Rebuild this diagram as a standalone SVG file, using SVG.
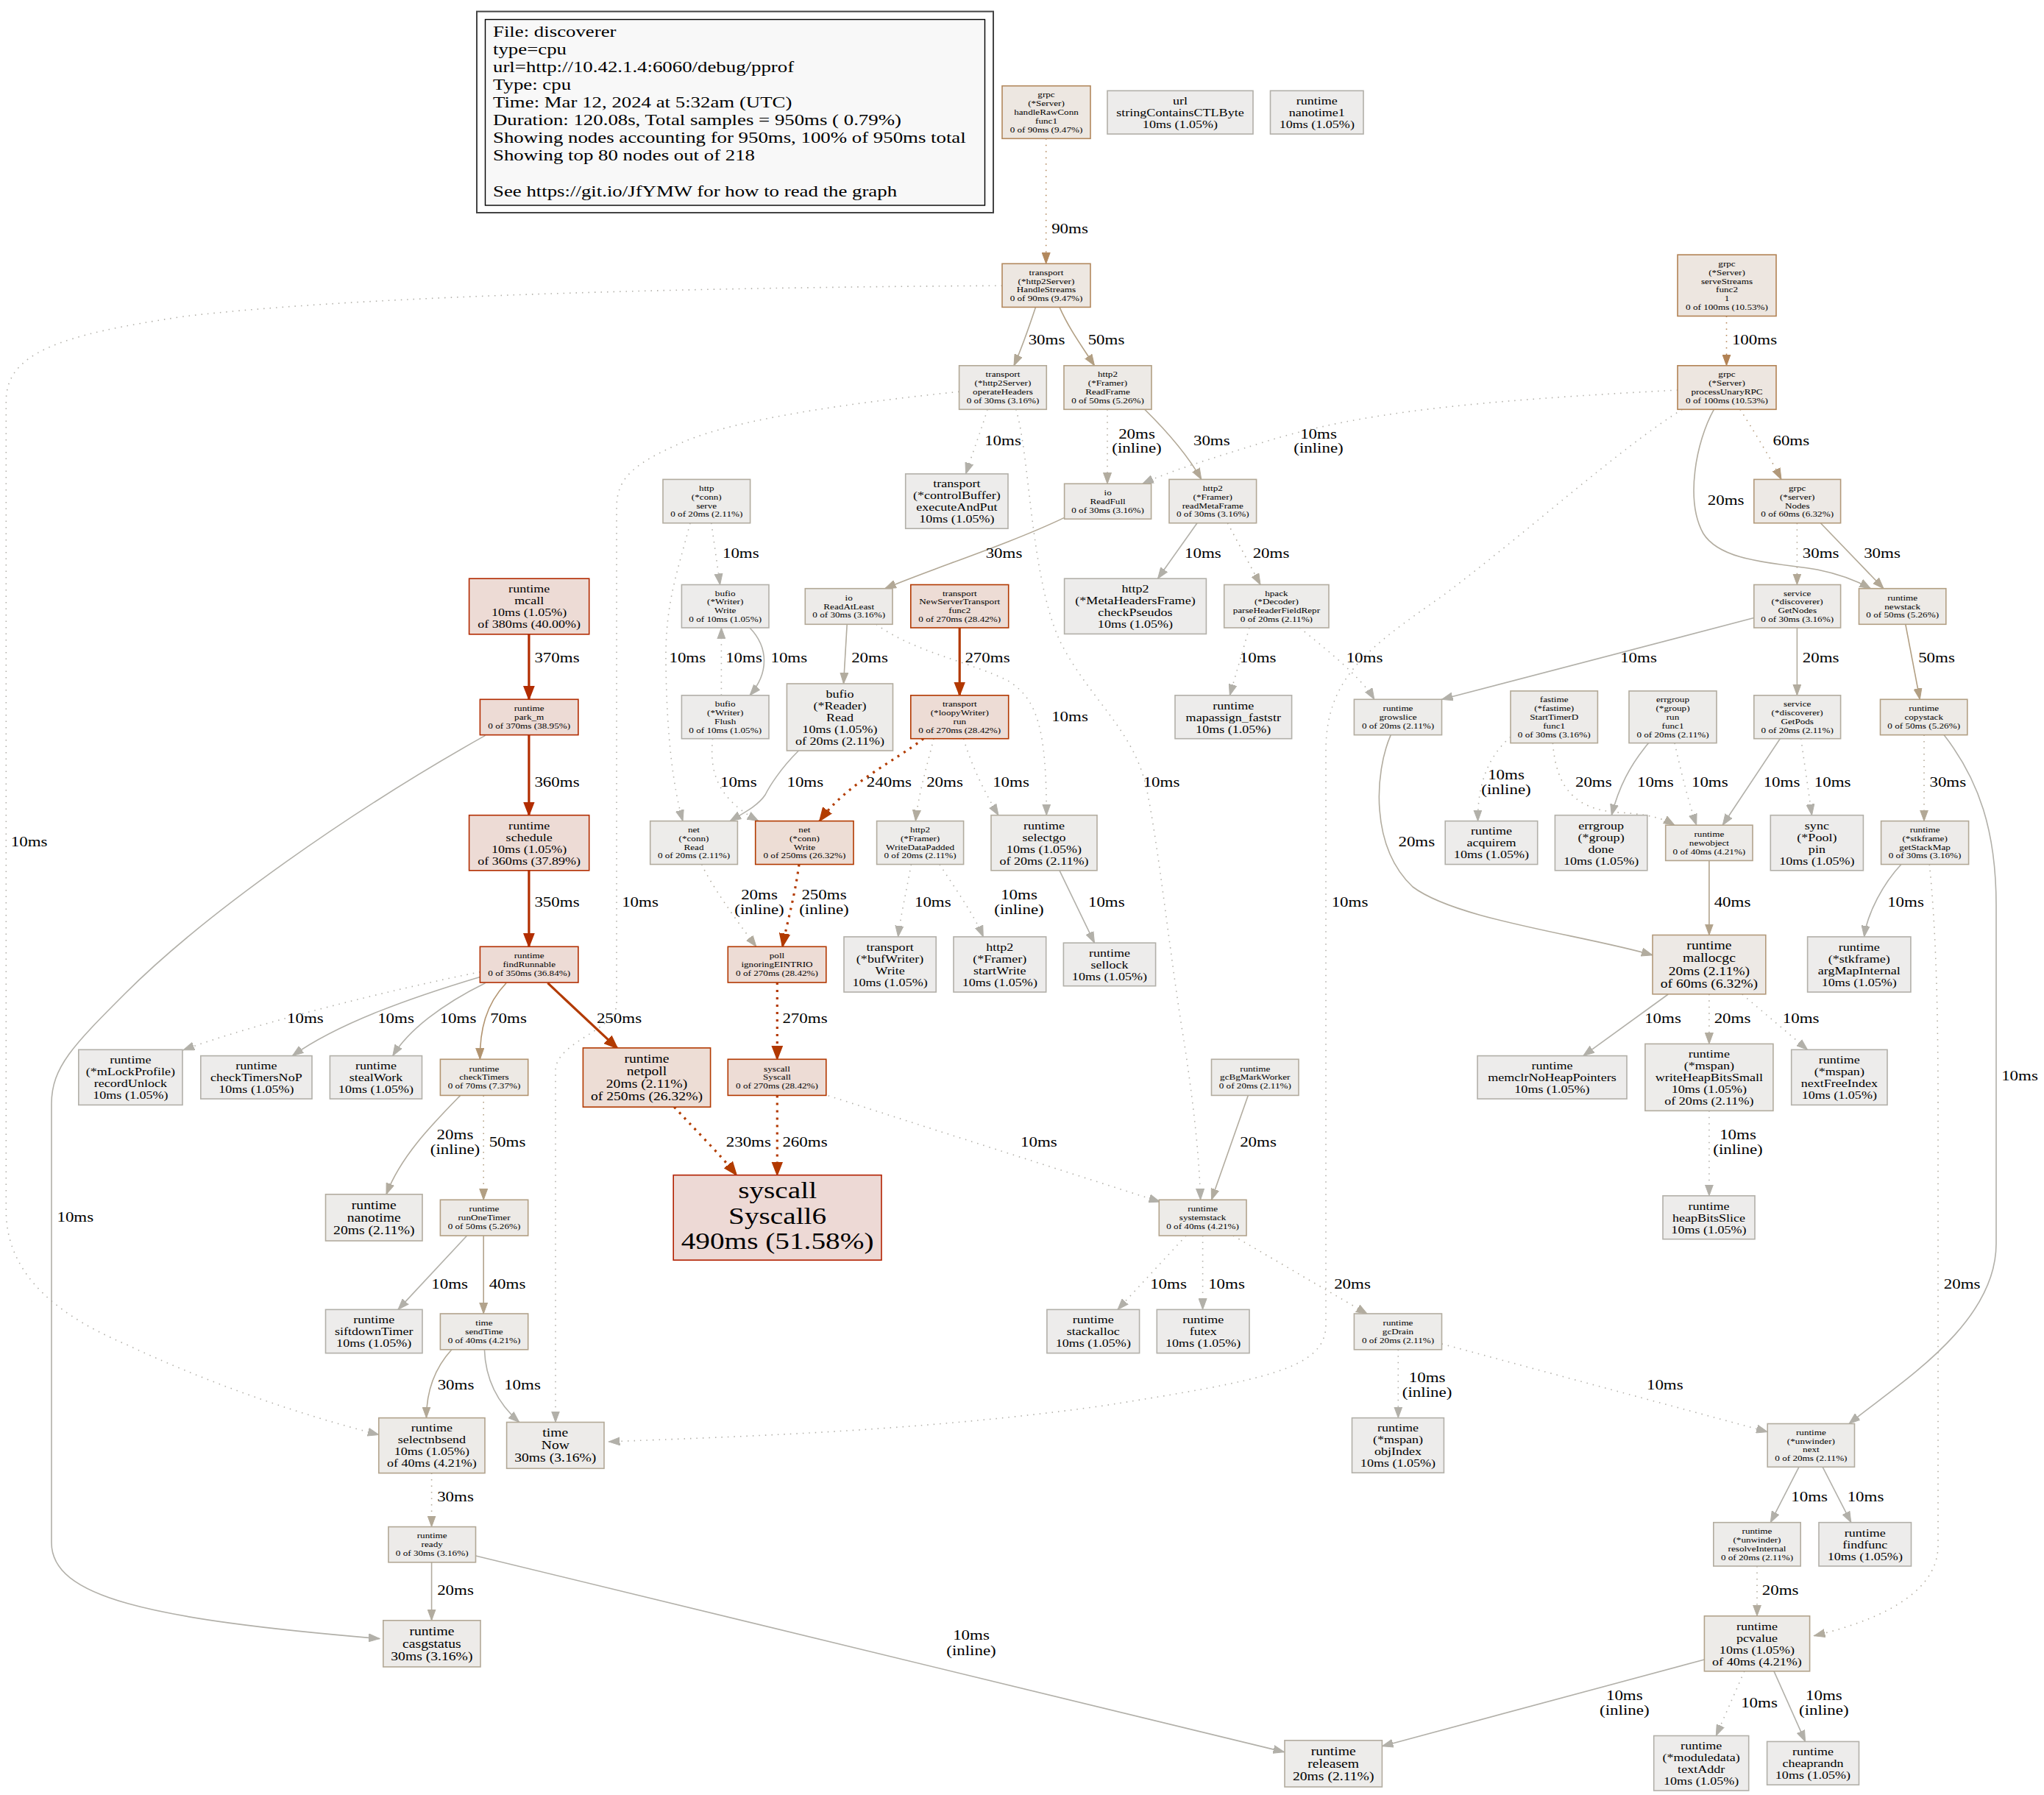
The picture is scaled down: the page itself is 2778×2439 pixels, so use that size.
<svg xmlns="http://www.w3.org/2000/svg" width="2778" height="2439" viewBox="0 0 2778 2439">
<style>
text{font-family:"Liberation Serif","Times New Roman",serif;fill:#000;text-anchor:middle;dominant-baseline:central;transform-box:fill-box;transform-origin:center;transform:scaleX(1.22)}
#legend text{text-anchor:start;dominant-baseline:alphabetic;transform-origin:left center;font-size:22px}
.f8{font-size:10.8px}.f11{font-size:14.8px}.f12{font-size:16.1px}.f24{font-size:32.2px}.el{font-size:18.8px}
.nd rect{stroke-width:1.6}
#edges path{fill:none;stroke-width:1.6}
#edges path.d{stroke-dasharray:1.5 7}
#edges path.t{stroke-width:3.2}
#edges path.td{stroke-width:3.2;stroke-dasharray:3 7}
</style>
<defs>
<marker id="m10" markerUnits="userSpaceOnUse" markerWidth="16" markerHeight="12" viewBox="0 0 16 12" refX="15" refY="6" orient="auto"><path d="M0,0.5L15,6L0,11.5z" fill="#b2b0a9" stroke="#b2b0a9"/></marker>
<marker id="m20" markerUnits="userSpaceOnUse" markerWidth="16" markerHeight="12" viewBox="0 0 16 12" refX="15" refY="6" orient="auto"><path d="M0,0.5L15,6L0,11.5z" fill="#b2ac9f" stroke="#b2ac9f"/></marker>
<marker id="m30" markerUnits="userSpaceOnUse" markerWidth="16" markerHeight="12" viewBox="0 0 16 12" refX="15" refY="6" orient="auto"><path d="M0,0.5L15,6L0,11.5z" fill="#b2a896" stroke="#b2a896"/></marker>
<marker id="m40" markerUnits="userSpaceOnUse" markerWidth="16" markerHeight="12" viewBox="0 0 16 12" refX="15" refY="6" orient="auto"><path d="M0,0.5L15,6L0,11.5z" fill="#b2a38c" stroke="#b2a38c"/></marker>
<marker id="m50" markerUnits="userSpaceOnUse" markerWidth="16" markerHeight="12" viewBox="0 0 16 12" refX="15" refY="6" orient="auto"><path d="M0,0.5L15,6L0,11.5z" fill="#b29f83" stroke="#b29f83"/></marker>
<marker id="m60" markerUnits="userSpaceOnUse" markerWidth="16" markerHeight="12" viewBox="0 0 16 12" refX="15" refY="6" orient="auto"><path d="M0,0.5L15,6L0,11.5z" fill="#b2997a" stroke="#b2997a"/></marker>
<marker id="m70" markerUnits="userSpaceOnUse" markerWidth="16" markerHeight="12" viewBox="0 0 16 12" refX="15" refY="6" orient="auto"><path d="M0,0.5L15,6L0,11.5z" fill="#b29470" stroke="#b29470"/></marker>
<marker id="m90" markerUnits="userSpaceOnUse" markerWidth="16" markerHeight="12" viewBox="0 0 16 12" refX="15" refY="6" orient="auto"><path d="M0,0.5L15,6L0,11.5z" fill="#b2885d" stroke="#b2885d"/></marker>
<marker id="m100" markerUnits="userSpaceOnUse" markerWidth="16" markerHeight="12" viewBox="0 0 16 12" refX="15" refY="6" orient="auto"><path d="M0,0.5L15,6L0,11.5z" fill="#b28254" stroke="#b28254"/></marker>
<marker id="m230" markerUnits="userSpaceOnUse" markerWidth="20" markerHeight="16" viewBox="0 0 20 16" refX="18" refY="8" orient="auto"><path d="M0,1L18,8L0,15z" fill="#b23d00" stroke="#b23d00" stroke-width="1.5"/></marker>
<marker id="m240" markerUnits="userSpaceOnUse" markerWidth="20" markerHeight="16" viewBox="0 0 20 16" refX="18" refY="8" orient="auto"><path d="M0,1L18,8L0,15z" fill="#b23c00" stroke="#b23c00" stroke-width="1.5"/></marker>
<marker id="m250" markerUnits="userSpaceOnUse" markerWidth="20" markerHeight="16" viewBox="0 0 20 16" refX="18" refY="8" orient="auto"><path d="M0,1L18,8L0,15z" fill="#b23a00" stroke="#b23a00" stroke-width="1.5"/></marker>
<marker id="m260" markerUnits="userSpaceOnUse" markerWidth="20" markerHeight="16" viewBox="0 0 20 16" refX="18" refY="8" orient="auto"><path d="M0,1L18,8L0,15z" fill="#b23900" stroke="#b23900" stroke-width="1.5"/></marker>
<marker id="m270" markerUnits="userSpaceOnUse" markerWidth="20" markerHeight="16" viewBox="0 0 20 16" refX="18" refY="8" orient="auto"><path d="M0,1L18,8L0,15z" fill="#b23800" stroke="#b23800" stroke-width="1.5"/></marker>
<marker id="m350" markerUnits="userSpaceOnUse" markerWidth="20" markerHeight="16" viewBox="0 0 20 16" refX="18" refY="8" orient="auto"><path d="M0,1L18,8L0,15z" fill="#b22e00" stroke="#b22e00" stroke-width="1.5"/></marker>
<marker id="m360" markerUnits="userSpaceOnUse" markerWidth="20" markerHeight="16" viewBox="0 0 20 16" refX="18" refY="8" orient="auto"><path d="M0,1L18,8L0,15z" fill="#b22d00" stroke="#b22d00" stroke-width="1.5"/></marker>
<marker id="m370" markerUnits="userSpaceOnUse" markerWidth="20" markerHeight="16" viewBox="0 0 20 16" refX="18" refY="8" orient="auto"><path d="M0,1L18,8L0,15z" fill="#b22c00" stroke="#b22c00" stroke-width="1.5"/></marker>
</defs>
<rect x="0" y="0" width="2778" height="2439" fill="#ffffff"/>
<g id="legend">
<rect x="648" y="15.6" width="702" height="273.4" fill="none" stroke="#444" stroke-width="2"/>
<rect x="659.5" y="26.5" width="679" height="252.5" fill="#f8f8f8" stroke="#000" stroke-width="1.4"/>
<text x="670" y="50.2">File: discoverer</text>
<text x="670" y="74.2">type=cpu</text>
<text x="670" y="98.3">url=http://10.42.1.4:6060/debug/pprof</text>
<text x="670" y="122.3">Type: cpu</text>
<text x="670" y="146.4">Time: Mar 12, 2024 at 5:32am (UTC)</text>
<text x="670" y="170.4">Duration: 120.08s, Total samples = 950ms ( 0.79%)</text>
<text x="670" y="194.5">Showing nodes accounting for 950ms, 100% of 950ms total</text>
<text x="670" y="218.5">Showing top 80 nodes out of 218</text>
<text x="670" y="266.6">See https://git.io/JfYMW for how to read the graph</text>
</g>
<g id="edges">
<g id="e1"><path class="d" stroke="#b2885d" marker-end="url(#m90)" d="M1421.7,188.3L1421.7,358.3"/><text class="el" x="1454" y="311">90ms</text></g>
<g id="e2"><path stroke="#b2a896" marker-end="url(#m30)" d="M1407.5,417.4C1400,440 1390,470 1378,496.8"/><text class="el" x="1422.5" y="461.8">30ms</text></g>
<g id="e3"><path stroke="#b29f83" marker-end="url(#m50)" d="M1440,417.4C1452,445 1470,470 1487.5,496.8"/><text class="el" x="1503.5" y="461.8">50ms</text></g>
<g id="e4"><path class="d" stroke="#b2b0a9" marker-end="url(#m10)" d="M1362,388.2C1000,390 500,400 250,430C80,455 8.3,480 8.3,545L8.3,1645C8.3,1720 60,1780 172,1827C280,1878 400,1920 514.8,1949.5"/><text class="el" x="39.7" y="1143.7">10ms</text></g>
<g id="e5"><path class="d" stroke="#b28254" marker-end="url(#m100)" d="M2346.5,429.5L2346.5,496.8"/><text class="el" x="2384.5" y="462">100ms</text></g>
<g id="e6"><path class="d" stroke="#b2b0a9" marker-end="url(#m10)" d="M1342,556.3C1335,580 1322,615 1312.6,643.9"/><text class="el" x="1363" y="598.3">10ms</text></g>
<g id="e7"><path class="d" stroke="#b2b0a9" marker-end="url(#m10)" d="M1380.8,556.3C1400,620 1400,780 1440,870C1480,950 1540,990 1558,1070C1575,1150 1590,1300 1610,1420C1625,1520 1630,1580 1631.6,1630.3"/><text class="el" x="1578.5" y="1062.6">10ms</text></g>
<g id="e8"><path class="d" stroke="#b2b0a9" marker-end="url(#m10)" d="M1303.6,532.2C1150,548 1000,570 930,600C860,630 838,650 838,690L838,1364C838,1400 755,1415 755,1455L755,1932.5"/><text class="el" x="870" y="1225.8">10ms</text></g>
<g id="e9"><path class="d" stroke="#b2ac9f" marker-end="url(#m20)" d="M1505,556.3L1505,657.3"/><text class="el" x="1545"><tspan x="1545" y="589.4">20ms</tspan><tspan x="1545" y="608.7">(inline)</tspan></text></g>
<g id="e10"><path stroke="#b2a896" marker-end="url(#m30)" d="M1555.7,556.3C1590,590 1615,620 1632.8,651.4"/><text class="el" x="1646.8" y="598.3">30ms</text></g>
<g id="e11"><path class="d" stroke="#b2b0a9" marker-end="url(#m10)" d="M2280.3,530C2000,545 1850,560 1720,600C1640,625 1590,640 1552.8,657.3"/><text class="el" x="1792"><tspan x="1792" y="589.4">10ms</tspan><tspan x="1792" y="608.7">(inline)</tspan></text></g>
<g id="e12"><path class="d" stroke="#b2997a" marker-end="url(#m60)" d="M2365,556.3C2380,580 2405,620 2421,651.4"/><text class="el" x="2434.3" y="598.3">60ms</text></g>
<g id="e13"><path stroke="#b2ac9f" marker-end="url(#m20)" d="M2329.4,556.3C2305,600 2290,680 2315,725C2340,765 2420,765 2470,774C2500,780 2525,790 2542.4,799.7"/><text class="el" x="2345.6" y="679.5">20ms</text></g>
<g id="e14"><path class="d" stroke="#b2b0a9" marker-end="url(#m10)" d="M2286.2,556.3C2200,610 2080,720 1960,810C1860,880 1802,920 1802,1020L1802,1800C1802,1860 1720,1875 1500,1910C1250,1945 1000,1952 827.4,1959"/><text class="el" x="1834.5" y="1226">10ms</text></g>
<g id="e15"><path stroke="#b2a896" marker-end="url(#m30)" d="M1446,703.6C1370,740 1260,775 1202.8,799.7"/><text class="el" x="1364.5" y="752">30ms</text></g>
<g id="e16"><path stroke="#b2b0a9" marker-end="url(#m10)" d="M1627,710.7L1573.5,786.2"/><text class="el" x="1634.9" y="752">10ms</text></g>
<g id="e17"><path class="d" stroke="#b2ac9f" marker-end="url(#m20)" d="M1668.4,710.7L1713,794.5"/><text class="el" x="1727.5" y="752">20ms</text></g>
<g id="e18"><path class="d" stroke="#b2a896" marker-end="url(#m30)" d="M2442.4,710.7L2442.4,794.5"/><text class="el" x="2474.6" y="752">30ms</text></g>
<g id="e19"><path stroke="#b2a896" marker-end="url(#m30)" d="M2474.4,710.7L2560,799.7"/><text class="el" x="2558" y="752">30ms</text></g>
<g id="e20"><path class="d" stroke="#b2b0a9" marker-end="url(#m10)" d="M966.8,710.7L978.6,794.5"/><text class="el" x="1006.8" y="752">10ms</text></g>
<g id="e21"><path class="d" stroke="#b2b0a9" marker-end="url(#m10)" d="M938,710.7C920,780 904,820 905,900C906,1000 915,1070 928,1115.6"/><text class="el" x="934.3" y="893.8">10ms</text></g>
<g id="e22"><path class="t" stroke="#b22c00" marker-end="url(#m370)" d="M718.9,861.8L718.9,950.3"/><text class="el" x="757" y="893.8">370ms</text></g>
<g id="e23"><path stroke="#b2b0a9" marker-end="url(#m10)" d="M1019,853C1045,880 1045,915 1019,944.8"/><text class="el" x="1072.3" y="893.8">10ms</text></g>
<g id="e24"><path class="d" stroke="#b2b0a9" marker-end="url(#m10)" d="M980.4,944.8L980.4,853"/><text class="el" x="1011" y="893.8">10ms</text></g>
<g id="e25"><path stroke="#b2ac9f" marker-end="url(#m20)" d="M1151.2,848.3L1146.5,929"/><text class="el" x="1182" y="893.8">20ms</text></g>
<g id="e26"><path class="d" stroke="#b2b0a9" marker-end="url(#m10)" d="M1191,848.3C1240,885 1320,900 1370,925C1410,950 1422,990 1422.3,1107.7"/><text class="el" x="1454" y="973.7">10ms</text></g>
<g id="e27"><path class="t" stroke="#b23800" marker-end="url(#m270)" d="M1304.2,853L1304.2,944.8"/><text class="el" x="1342" y="893.8">270ms</text></g>
<g id="e28"><path class="d" stroke="#b2b0a9" marker-end="url(#m10)" d="M1698,853L1671.4,944.8"/><text class="el" x="1709.7" y="893.8">10ms</text></g>
<g id="e29"><path class="d" stroke="#b2b0a9" marker-end="url(#m10)" d="M1766.3,853C1800,880 1850,920 1867.8,950.3"/><text class="el" x="1854.5" y="893.8">10ms</text></g>
<g id="e30"><path stroke="#b2b0a9" marker-end="url(#m10)" d="M2383.8,839.6L1959.5,950.3"/><text class="el" x="2227" y="893.8">10ms</text></g>
<g id="e31"><path stroke="#b2ac9f" marker-end="url(#m20)" d="M2442.4,853L2442.4,944.8"/><text class="el" x="2474.6" y="893.8">20ms</text></g>
<g id="e32"><path stroke="#b29f83" marker-end="url(#m50)" d="M2589.8,848.3L2609.3,950.3"/><text class="el" x="2632" y="893.8">50ms</text></g>
<g id="e33"><path class="t" stroke="#b22d00" marker-end="url(#m360)" d="M718.9,998.6L718.9,1107.7"/><text class="el" x="757" y="1062.6">360ms</text></g>
<g id="e34"><path stroke="#b2b0a9" marker-end="url(#m10)" d="M659.5,999.4C480,1100 280,1240 170,1350C100,1420 70,1450 70,1500L70,2096C70,2170 200,2200 516,2226.6"/><text class="el" x="102.3" y="1653.6">10ms</text></g>
<g id="e35"><path class="d" stroke="#b2b0a9" marker-end="url(#m10)" d="M968.6,1003.7C964,1050 975,1085 1030.8,1115.6"/><text class="el" x="1003.8" y="1062.6">10ms</text></g>
<g id="e36"><path stroke="#b2b0a9" marker-end="url(#m10)" d="M1085.4,1020C1060,1045 1045,1070 1040,1080C1030,1095 1010,1105 992.3,1115.6"/><text class="el" x="1094.3" y="1062.6">10ms</text></g>
<g id="e37"><path class="td" stroke="#b23c00" marker-end="url(#m240)" d="M1255,1003.7C1215,1035 1150,1065 1113.9,1115.6"/><text class="el" x="1208.4" y="1062.6">240ms</text></g>
<g id="e38"><path class="d" stroke="#b2ac9f" marker-end="url(#m20)" d="M1269,1003.7C1260,1040 1248,1080 1244.4,1115.6"/><text class="el" x="1284" y="1062.6">20ms</text></g>
<g id="e39"><path class="d" stroke="#b2b0a9" marker-end="url(#m10)" d="M1309.6,1003.7C1320,1040 1340,1080 1357,1107.7"/><text class="el" x="1374" y="1062.6">10ms</text></g>
<g id="e40"><path stroke="#b2ac9f" marker-end="url(#m20)" d="M1890.2,998.6C1868,1050 1862,1150 1920,1205C1980,1250 2150,1270 2246,1297.8"/><text class="el" x="1925.3" y="1143.7">20ms</text></g>
<g id="e41"><path class="d" stroke="#b2b0a9" marker-end="url(#m10)" d="M2053,1001.3C2020,1030 2008,1070 2008.6,1115.6"/><text class="el" x="2047"><tspan x="2047" y="1052.7">10ms</tspan><tspan x="2047" y="1072.5">(inline)</tspan></text></g>
<g id="e42"><path class="d" stroke="#b2ac9f" marker-end="url(#m20)" d="M2110.4,1009.6C2115,1070 2140,1100 2200,1104C2240,1106 2260,1112 2276,1121.2"/><text class="el" x="2165.8" y="1062.6">20ms</text></g>
<g id="e43"><path stroke="#b2b0a9" marker-end="url(#m10)" d="M2240.6,1009.6C2215,1040 2200,1070 2190.3,1107.7"/><text class="el" x="2249.8" y="1062.6">10ms</text></g>
<g id="e44"><path class="d" stroke="#b2b0a9" marker-end="url(#m10)" d="M2276,1009.6C2285,1050 2295,1090 2305.7,1121.2"/><text class="el" x="2323.8" y="1062.6">10ms</text></g>
<g id="e45"><path stroke="#b2b0a9" marker-end="url(#m10)" d="M2419.3,1003.7L2341.2,1121.2"/><text class="el" x="2421.5" y="1062.6">10ms</text></g>
<g id="e46"><path class="d" stroke="#b2b0a9" marker-end="url(#m10)" d="M2447.7,1003.7L2462.5,1107.7"/><text class="el" x="2490.6" y="1062.6">10ms</text></g>
<g id="e47"><path class="d" stroke="#b2a896" marker-end="url(#m30)" d="M2615,998.6L2615,1115.6"/><text class="el" x="2647.3" y="1062.6">30ms</text></g>
<g id="e48"><path stroke="#b2b0a9" marker-end="url(#m10)" d="M2642,998.6C2690,1060 2713,1130 2713,1230L2713,1690C2713,1800 2580,1880 2513,1934.5"/><text class="el" x="2745" y="1461.9">10ms</text></g>
<g id="e49"><path class="t" stroke="#b22e00" marker-end="url(#m350)" d="M718.9,1182.8L718.9,1286.3"/><text class="el" x="757" y="1225.8">350ms</text></g>
<g id="e50"><path class="d" stroke="#b2ac9f" marker-end="url(#m20)" d="M953.7,1174.5C965,1200 1000,1250 1027.9,1286.3"/><text class="el" x="1032"><tspan x="1032" y="1216">20ms</tspan><tspan x="1032" y="1236">(inline)</tspan></text></g>
<g id="e51"><path class="td" stroke="#b23a00" marker-end="url(#m250)" d="M1086,1174.5C1080,1220 1068,1260 1063.5,1286.3"/><text class="el" x="1120"><tspan x="1120" y="1216">250ms</tspan><tspan x="1120" y="1236">(inline)</tspan></text></g>
<g id="e52"><path class="d" stroke="#b2b0a9" marker-end="url(#m10)" d="M1238.4,1174.5C1232,1210 1224,1245 1220.6,1272.9"/><text class="el" x="1267.8" y="1226">10ms</text></g>
<g id="e53"><path class="d" stroke="#b2b0a9" marker-end="url(#m10)" d="M1277,1174.5C1300,1210 1325,1245 1336.3,1272.9"/><text class="el" x="1385"><tspan x="1385" y="1216">10ms</tspan><tspan x="1385" y="1236">(inline)</tspan></text></g>
<g id="e54"><path stroke="#b2b0a9" marker-end="url(#m10)" d="M1440,1182.8L1487.5,1281.2"/><text class="el" x="1503.8" y="1226">10ms</text></g>
<g id="e55"><path stroke="#b2a38c" marker-end="url(#m40)" d="M2322.9,1169.4L2322.9,1270.5"/><text class="el" x="2354.5" y="1226">40ms</text></g>
<g id="e56"><path stroke="#b2b0a9" marker-end="url(#m10)" d="M2583.9,1174.5C2560,1200 2538,1240 2533.6,1272.9"/><text class="el" x="2590" y="1226">10ms</text></g>
<g id="e57"><path class="d" stroke="#b2ac9f" marker-end="url(#m20)" d="M2622.3,1174.5C2630,1250 2634,1350 2634,1500L2634,2100C2634,2170 2540,2205 2465.5,2222.7"/><text class="el" x="2666.7" y="1744.6">20ms</text></g>
<g id="e58"><path class="d" stroke="#b2b0a9" marker-end="url(#m10)" d="M652.4,1320.7C530,1345 350,1390 249,1426.7"/><text class="el" x="414.9" y="1384">10ms</text></g>
<g id="e59"><path stroke="#b2b0a9" marker-end="url(#m10)" d="M652.4,1327.4C560,1355 460,1390 397.4,1434.6"/><text class="el" x="538" y="1384">10ms</text></g>
<g id="e60"><path stroke="#b2b0a9" marker-end="url(#m10)" d="M659.5,1335.7C600,1365 555,1400 533.8,1434.6"/><text class="el" x="622.5" y="1384">10ms</text></g>
<g id="e61"><path stroke="#b29470" marker-end="url(#m70)" d="M688,1335.7C660,1365 652,1400 652.4,1439.3"/><text class="el" x="691" y="1384">70ms</text></g>
<g id="e62"><path class="t" stroke="#b23a00" marker-end="url(#m250)" d="M744.4,1335.7L839.3,1424.7"/><text class="el" x="841.5" y="1384">250ms</text></g>
<g id="e63"><path class="td" stroke="#b23800" marker-end="url(#m270)" d="M1056.3,1335L1056.3,1439.3"/><text class="el" x="1094" y="1384">270ms</text></g>
<g id="e64"><path stroke="#b2b0a9" marker-end="url(#m10)" d="M2267.2,1351L2151.8,1434.6"/><text class="el" x="2260" y="1384">10ms</text></g>
<g id="e65"><path class="d" stroke="#b2ac9f" marker-end="url(#m20)" d="M2322.9,1350.8L2322.9,1418.4"/><text class="el" x="2354.5" y="1384">20ms</text></g>
<g id="e66"><path class="d" stroke="#b2b0a9" marker-end="url(#m10)" d="M2367.8,1351L2456.6,1426.3"/><text class="el" x="2447.7" y="1384">10ms</text></g>
<g id="e67"><path class="td" stroke="#b23d00" marker-end="url(#m230)" d="M916.4,1504.2C940,1530 980,1570 1001,1596.7"/><text class="el" x="1017.3" y="1551.6">230ms</text></g>
<g id="e68"><path class="td" stroke="#b23900" marker-end="url(#m260)" d="M1056.3,1488.4L1056.3,1596.7"/><text class="el" x="1094" y="1551.6">260ms</text></g>
<g id="e69"><path class="d" stroke="#b2b0a9" marker-end="url(#m10)" d="M1125.7,1488.8L1576.5,1633"/><text class="el" x="1411.8" y="1551.6">10ms</text></g>
<g id="e70"><path stroke="#b2ac9f" marker-end="url(#m20)" d="M1696.3,1488.4L1646.5,1630.3"/><text class="el" x="1710" y="1551.6">20ms</text></g>
<g id="e71"><path stroke="#b2ac9f" marker-end="url(#m20)" d="M625.7,1488.4C590,1525 545,1570 525,1622.8"/><text class="el" x="618.5"><tspan x="618.5" y="1541.4">20ms</tspan><tspan x="618.5" y="1561.5">(inline)</tspan></text></g>
<g id="e72"><path class="d" stroke="#b29f83" marker-end="url(#m50)" d="M657.2,1488.4L657.2,1630.3"/><text class="el" x="689.5" y="1551.6">50ms</text></g>
<g id="e73"><path class="d" stroke="#b2b0a9" marker-end="url(#m10)" d="M2322.9,1509.3L2322.9,1624.8"/><text class="el" x="2362"><tspan x="2362" y="1541.4">10ms</tspan><tspan x="2362" y="1561.5">(inline)</tspan></text></g>
<g id="e74"><path stroke="#b2b0a9" marker-end="url(#m10)" d="M634.6,1679L541,1779.4"/><text class="el" x="611.2" y="1744.6">10ms</text></g>
<g id="e75"><path stroke="#b2a38c" marker-end="url(#m40)" d="M657.2,1679L657.2,1785"/><text class="el" x="689.5" y="1744.6">40ms</text></g>
<g id="e76"><path class="d" stroke="#b2b0a9" marker-end="url(#m10)" d="M1612,1679L1519,1779.4"/><text class="el" x="1588" y="1744.6">10ms</text></g>
<g id="e77"><path class="d" stroke="#b2b0a9" marker-end="url(#m10)" d="M1634.6,1679L1634.6,1779.4"/><text class="el" x="1667" y="1744.6">10ms</text></g>
<g id="e78"><path class="d" stroke="#b2ac9f" marker-end="url(#m20)" d="M1676,1679L1858.2,1785.3"/><text class="el" x="1838" y="1744.6">20ms</text></g>
<g id="e79"><path stroke="#b2a896" marker-end="url(#m30)" d="M613.9,1833.8C590,1860 579.5,1890 579.5,1926.6"/><text class="el" x="619.5" y="1882">30ms</text></g>
<g id="e80"><path stroke="#b2b0a9" marker-end="url(#m10)" d="M658.4,1833.8C660,1880 680,1910 705.8,1932.5"/><text class="el" x="710" y="1882">10ms</text></g>
<g id="e81"><path class="d" stroke="#b2b0a9" marker-end="url(#m10)" d="M1900.3,1833.8L1900.3,1926.6"/><text class="el" x="1939.6"><tspan x="1939.6" y="1871.3">10ms</tspan><tspan x="1939.6" y="1891.9">(inline)</tspan></text></g>
<g id="e82"><path class="d" stroke="#b2b0a9" marker-end="url(#m10)" d="M1959.5,1826L2402.2,1945.5"/><text class="el" x="2262.8" y="1882">10ms</text></g>
<g id="e83"><path class="d" stroke="#b2a896" marker-end="url(#m30)" d="M586.6,2001.6L586.6,2074.6"/><text class="el" x="619" y="2033.6">30ms</text></g>
<g id="e84"><path stroke="#b2b0a9" marker-end="url(#m10)" d="M2444.8,1993.7L2406.3,2068.7"/><text class="el" x="2459.2" y="2033.6">10ms</text></g>
<g id="e85"><path stroke="#b2b0a9" marker-end="url(#m10)" d="M2477.3,1993.7L2515.8,2068.7"/><text class="el" x="2535.5" y="2033.6">10ms</text></g>
<g id="e86"><path stroke="#b2ac9f" marker-end="url(#m20)" d="M586.6,2122.8L586.6,2201.8"/><text class="el" x="619" y="2161">20ms</text></g>
<g id="e87"><path stroke="#b2b0a9" marker-end="url(#m10)" d="M646.5,2114L1745.5,2380.6"/><text class="el" x="1320"><tspan x="1320" y="2221.9">10ms</tspan><tspan x="1320" y="2242.4">(inline)</tspan></text></g>
<g id="e88"><path class="d" stroke="#b2ac9f" marker-end="url(#m20)" d="M2388,2128L2388,2195.8"/><text class="el" x="2419.6" y="2161">20ms</text></g>
<g id="e89"><path stroke="#b2b0a9" marker-end="url(#m10)" d="M2316.4,2255C2150,2300 2000,2340 1878.4,2372.7"/><text class="el" x="2207.8"><tspan x="2207.8" y="2303.6">10ms</tspan><tspan x="2207.8" y="2323.7">(inline)</tspan></text></g>
<g id="e90"><path class="d" stroke="#b2b0a9" marker-end="url(#m10)" d="M2370.8,2270.8L2332.3,2358.5"/><text class="el" x="2391" y="2313.5">10ms</text></g>
<g id="e91"><path stroke="#b2b0a9" marker-end="url(#m10)" d="M2411,2270.8L2453.6,2366.4"/><text class="el" x="2478.8"><tspan x="2478.8" y="2303.6">10ms</tspan><tspan x="2478.8" y="2323.7">(inline)</tspan></text></g>
</g>
<g id="nodes">
<g id="n1" class="nd"><rect x="1362" y="116.7" width="120" height="71.6" fill="#ede7e1" stroke="#b2885d"/><text class="f8" x="1422"><tspan x="1422" y="128.7">grpc</tspan><tspan x="1422" y="140.6">(*Server)</tspan><tspan x="1422" y="152.5">handleRawConn</tspan><tspan x="1422" y="164.4">func1</tspan><tspan x="1422" y="176.3">0 of 90ms (9.47%)</tspan></text></g>
<g id="n2" class="nd"><rect x="1505" y="123.3" width="198" height="58.8" fill="#edeceb" stroke="#b2b0a9"/><text class="f11" x="1604"><tspan x="1604" y="136.7">url</tspan><tspan x="1604" y="152.7">stringContainsCTLByte</tspan><tspan x="1604" y="168.7">10ms (1.05%)</tspan></text></g>
<g id="n3" class="nd"><rect x="1726.5" y="123.3" width="126.5" height="58.8" fill="#edeceb" stroke="#b2b0a9"/><text class="f11" x="1789.8"><tspan x="1789.8" y="136.7">runtime</tspan><tspan x="1789.8" y="152.7">nanotime1</tspan><tspan x="1789.8" y="168.7">10ms (1.05%)</tspan></text></g>
<g id="n4" class="nd"><rect x="1362" y="358.3" width="120" height="59.1" fill="#ede7e1" stroke="#b2885d"/><text class="f8" x="1422"><tspan x="1422" y="370.05">transport</tspan><tspan x="1422" y="381.95">(*http2Server)</tspan><tspan x="1422" y="393.85">HandleStreams</tspan><tspan x="1422" y="405.75">0 of 90ms (9.47%)</tspan></text></g>
<g id="n5" class="nd"><rect x="2280" y="346.2" width="134" height="83.3" fill="#ede6e0" stroke="#b28254"/><text class="f8" x="2347"><tspan x="2347" y="358.15">grpc</tspan><tspan x="2347" y="370.05">(*Server)</tspan><tspan x="2347" y="381.95">serveStreams</tspan><tspan x="2347" y="393.85">func2</tspan><tspan x="2347" y="405.75">1</tspan><tspan x="2347" y="417.65">0 of 100ms (10.53%)</tspan></text></g>
<g id="n6" class="nd"><rect x="1303.6" y="496.8" width="118.7" height="59.5" fill="#edebe9" stroke="#b2a896"/><text class="f8" x="1363"><tspan x="1363" y="508.65">transport</tspan><tspan x="1363" y="520.55">(*http2Server)</tspan><tspan x="1363" y="532.45">operateHeaders</tspan><tspan x="1363" y="544.35">0 of 30ms (3.16%)</tspan></text></g>
<g id="n7" class="nd"><rect x="1446" y="496.8" width="119" height="59.5" fill="#edeae6" stroke="#b29f83"/><text class="f8" x="1505.5"><tspan x="1505.5" y="508.65">http2</tspan><tspan x="1505.5" y="520.55">(*Framer)</tspan><tspan x="1505.5" y="532.45">ReadFrame</tspan><tspan x="1505.5" y="544.35">0 of 50ms (5.26%)</tspan></text></g>
<g id="n8" class="nd"><rect x="2280" y="496.8" width="134" height="59.5" fill="#ede6e0" stroke="#b28254"/><text class="f8" x="2347"><tspan x="2347" y="508.65">grpc</tspan><tspan x="2347" y="520.55">(*Server)</tspan><tspan x="2347" y="532.45">processUnaryRPC</tspan><tspan x="2347" y="544.35">0 of 100ms (10.53%)</tspan></text></g>
<g id="n9" class="nd"><rect x="1230.7" y="643.9" width="139.3" height="74.3" fill="#edeceb" stroke="#b2b0a9"/><text class="f11" x="1300.4"><tspan x="1300.4" y="657">transport</tspan><tspan x="1300.4" y="673">(*controlBuffer)</tspan><tspan x="1300.4" y="689">executeAndPut</tspan><tspan x="1300.4" y="705">10ms (1.05%)</tspan></text></g>
<g id="n10" class="nd"><rect x="1446.6" y="657.3" width="118" height="47.9" fill="#edebe9" stroke="#b2a896"/><text class="f8" x="1505.6"><tspan x="1505.6" y="669.3">io</tspan><tspan x="1505.6" y="681.2">ReadFull</tspan><tspan x="1505.6" y="693.1">0 of 30ms (3.16%)</tspan></text></g>
<g id="n11" class="nd"><rect x="1589" y="651.4" width="118.6" height="59.3" fill="#edebe9" stroke="#b2a896"/><text class="f8" x="1648.3"><tspan x="1648.3" y="663.15">http2</tspan><tspan x="1648.3" y="675.05">(*Framer)</tspan><tspan x="1648.3" y="686.95">readMetaFrame</tspan><tspan x="1648.3" y="698.85">0 of 30ms (3.16%)</tspan></text></g>
<g id="n12" class="nd"><rect x="2383.8" y="651.4" width="117.8" height="59.3" fill="#ede9e5" stroke="#b2997a"/><text class="f8" x="2442.7"><tspan x="2442.7" y="663.15">grpc</tspan><tspan x="2442.7" y="675.05">(*server)</tspan><tspan x="2442.7" y="686.95">Nodes</tspan><tspan x="2442.7" y="698.85">0 of 60ms (6.32%)</tspan></text></g>
<g id="n13" class="nd"><rect x="901" y="651.4" width="118.6" height="59.3" fill="#edecea" stroke="#b2ac9f"/><text class="f8" x="960.3"><tspan x="960.3" y="663.15">http</tspan><tspan x="960.3" y="675.05">(*conn)</tspan><tspan x="960.3" y="686.95">serve</tspan><tspan x="960.3" y="698.85">0 of 20ms (2.11%)</tspan></text></g>
<g id="n14" class="nd"><rect x="637.6" y="786.2" width="163.1" height="75.6" fill="#eddbd5" stroke="#b22a00"/><text class="f11" x="719.2"><tspan x="719.2" y="800">runtime</tspan><tspan x="719.2" y="816">mcall</tspan><tspan x="719.2" y="832">10ms (1.05%)</tspan><tspan x="719.2" y="848">of 380ms (40.00%)</tspan></text></g>
<g id="n15" class="nd"><rect x="926.4" y="794.5" width="118.6" height="58.5" fill="#edeceb" stroke="#b2b0a9"/><text class="f8" x="985.7"><tspan x="985.7" y="805.95">bufio</tspan><tspan x="985.7" y="817.85">(*Writer)</tspan><tspan x="985.7" y="829.75">Write</tspan><tspan x="985.7" y="841.65">0 of 10ms (1.05%)</tspan></text></g>
<g id="n16" class="nd"><rect x="1094.3" y="799.7" width="118.7" height="48.6" fill="#edebe9" stroke="#b2a896"/><text class="f8" x="1153.7"><tspan x="1153.7" y="812.1">io</tspan><tspan x="1153.7" y="824">ReadAtLeast</tspan><tspan x="1153.7" y="835.9">0 of 30ms (3.16%)</tspan></text></g>
<g id="n17" class="nd"><rect x="1237.8" y="794.5" width="132.9" height="58.5" fill="#eddcd5" stroke="#b23800"/><text class="f8" x="1304.3"><tspan x="1304.3" y="805.95">transport</tspan><tspan x="1304.3" y="817.85">NewServerTransport</tspan><tspan x="1304.3" y="829.75">func2</tspan><tspan x="1304.3" y="841.65">0 of 270ms (28.42%)</tspan></text></g>
<g id="n18" class="nd"><rect x="1446.6" y="786.2" width="192.8" height="75.2" fill="#edeceb" stroke="#b2b0a9"/><text class="f11" x="1543"><tspan x="1543" y="799.8">http2</tspan><tspan x="1543" y="815.8">(*MetaHeadersFrame)</tspan><tspan x="1543" y="831.8">checkPseudos</tspan><tspan x="1543" y="847.8">10ms (1.05%)</tspan></text></g>
<g id="n19" class="nd"><rect x="1663.7" y="794.5" width="142.3" height="58.5" fill="#edecea" stroke="#b2ac9f"/><text class="f8" x="1734.9"><tspan x="1734.9" y="805.95">hpack</tspan><tspan x="1734.9" y="817.85">(*Decoder)</tspan><tspan x="1734.9" y="829.75">parseHeaderFieldRepr</tspan><tspan x="1734.9" y="841.65">0 of 20ms (2.11%)</tspan></text></g>
<g id="n20" class="nd"><rect x="2383.8" y="794.5" width="117.8" height="58.5" fill="#edebe9" stroke="#b2a896"/><text class="f8" x="2442.7"><tspan x="2442.7" y="805.95">service</tspan><tspan x="2442.7" y="817.85">(*discoverer)</tspan><tspan x="2442.7" y="829.75">GetNodes</tspan><tspan x="2442.7" y="841.65">0 of 30ms (3.16%)</tspan></text></g>
<g id="n21" class="nd"><rect x="2526.5" y="799.7" width="118.3" height="48.6" fill="#edeae6" stroke="#b29f83"/><text class="f8" x="2585.7"><tspan x="2585.7" y="812.1">runtime</tspan><tspan x="2585.7" y="824">newstack</tspan><tspan x="2585.7" y="835.9">0 of 50ms (5.26%)</tspan></text></g>
<g id="n22" class="nd"><rect x="652.4" y="950.3" width="133.5" height="48.3" fill="#eddbd5" stroke="#b22c00"/><text class="f8" x="719.2"><tspan x="719.2" y="962.6">runtime</tspan><tspan x="719.2" y="974.5">park_m</tspan><tspan x="719.2" y="986.4">0 of 370ms (38.95%)</tspan></text></g>
<g id="n23" class="nd"><rect x="926.4" y="944.8" width="118.6" height="58.9" fill="#edeceb" stroke="#b2b0a9"/><text class="f8" x="985.7"><tspan x="985.7" y="956.45">bufio</tspan><tspan x="985.7" y="968.35">(*Writer)</tspan><tspan x="985.7" y="980.25">Flush</tspan><tspan x="985.7" y="992.15">0 of 10ms (1.05%)</tspan></text></g>
<g id="n24" class="nd"><rect x="1069.4" y="929" width="144.1" height="91" fill="#edecea" stroke="#b2ac9f"/><text class="f11" x="1141.5"><tspan x="1141.5" y="942.5">bufio</tspan><tspan x="1141.5" y="958.5">(*Reader)</tspan><tspan x="1141.5" y="974.5">Read</tspan><tspan x="1141.5" y="990.5">10ms (1.05%)</tspan><tspan x="1141.5" y="1006.5">of 20ms (2.11%)</tspan></text></g>
<g id="n25" class="nd"><rect x="1237.8" y="944.8" width="132.9" height="58.9" fill="#eddcd5" stroke="#b23800"/><text class="f8" x="1304.3"><tspan x="1304.3" y="956.45">transport</tspan><tspan x="1304.3" y="968.35">(*loopyWriter)</tspan><tspan x="1304.3" y="980.25">run</tspan><tspan x="1304.3" y="992.15">0 of 270ms (28.42%)</tspan></text></g>
<g id="n26" class="nd"><rect x="1597" y="944.8" width="158.6" height="58.9" fill="#edeceb" stroke="#b2b0a9"/><text class="f11" x="1676.3"><tspan x="1676.3" y="958.3">runtime</tspan><tspan x="1676.3" y="974.3">mapassign_faststr</tspan><tspan x="1676.3" y="990.3">10ms (1.05%)</tspan></text></g>
<g id="n27" class="nd"><rect x="1840.4" y="950.3" width="119.1" height="48.3" fill="#edecea" stroke="#b2ac9f"/><text class="f8" x="1900"><tspan x="1900" y="962.6">runtime</tspan><tspan x="1900" y="974.5">growslice</tspan><tspan x="1900" y="986.4">0 of 20ms (2.11%)</tspan></text></g>
<g id="n28" class="nd"><rect x="2053" y="938.9" width="118.4" height="70.7" fill="#edebe9" stroke="#b2a896"/><text class="f8" x="2112.2"><tspan x="2112.2" y="950.5">fastime</tspan><tspan x="2112.2" y="962.4">(*fastime)</tspan><tspan x="2112.2" y="974.3">StartTimerD</tspan><tspan x="2112.2" y="986.2">func1</tspan><tspan x="2112.2" y="998.1">0 of 30ms (3.16%)</tspan></text></g>
<g id="n29" class="nd"><rect x="2214" y="938.9" width="119" height="70.7" fill="#edecea" stroke="#b2ac9f"/><text class="f8" x="2273.5"><tspan x="2273.5" y="950.5">errgroup</tspan><tspan x="2273.5" y="962.4">(*group)</tspan><tspan x="2273.5" y="974.3">run</tspan><tspan x="2273.5" y="986.2">func1</tspan><tspan x="2273.5" y="998.1">0 of 20ms (2.11%)</tspan></text></g>
<g id="n30" class="nd"><rect x="2383.8" y="944.8" width="117.8" height="58.9" fill="#edecea" stroke="#b2ac9f"/><text class="f8" x="2442.7"><tspan x="2442.7" y="956.45">service</tspan><tspan x="2442.7" y="968.35">(*discoverer)</tspan><tspan x="2442.7" y="980.25">GetPods</tspan><tspan x="2442.7" y="992.15">0 of 20ms (2.11%)</tspan></text></g>
<g id="n31" class="nd"><rect x="2555.5" y="950.3" width="118.3" height="48.3" fill="#edeae6" stroke="#b29f83"/><text class="f8" x="2614.7"><tspan x="2614.7" y="962.6">runtime</tspan><tspan x="2614.7" y="974.5">copystack</tspan><tspan x="2614.7" y="986.4">0 of 50ms (5.26%)</tspan></text></g>
<g id="n32" class="nd"><rect x="637.6" y="1107.7" width="163.1" height="75.1" fill="#eddbd5" stroke="#b22d00"/><text class="f11" x="719.2"><tspan x="719.2" y="1121.3">runtime</tspan><tspan x="719.2" y="1137.3">schedule</tspan><tspan x="719.2" y="1153.3">10ms (1.05%)</tspan><tspan x="719.2" y="1169.3">of 360ms (37.89%)</tspan></text></g>
<g id="n33" class="nd"><rect x="883.7" y="1115.6" width="118.7" height="58.9" fill="#edecea" stroke="#b2ac9f"/><text class="f8" x="943"><tspan x="943" y="1127.15">net</tspan><tspan x="943" y="1139.05">(*conn)</tspan><tspan x="943" y="1150.95">Read</tspan><tspan x="943" y="1162.85">0 of 20ms (2.11%)</tspan></text></g>
<g id="n34" class="nd"><rect x="1026.7" y="1115.6" width="133.3" height="58.9" fill="#edddd5" stroke="#b23a00"/><text class="f8" x="1093.4"><tspan x="1093.4" y="1127.15">net</tspan><tspan x="1093.4" y="1139.05">(*conn)</tspan><tspan x="1093.4" y="1150.95">Write</tspan><tspan x="1093.4" y="1162.85">0 of 250ms (26.32%)</tspan></text></g>
<g id="n35" class="nd"><rect x="1191.6" y="1115.6" width="118" height="58.9" fill="#edecea" stroke="#b2ac9f"/><text class="f8" x="1250.6"><tspan x="1250.6" y="1127.15">http2</tspan><tspan x="1250.6" y="1139.05">(*Framer)</tspan><tspan x="1250.6" y="1150.95">WriteDataPadded</tspan><tspan x="1250.6" y="1162.85">0 of 20ms (2.11%)</tspan></text></g>
<g id="n36" class="nd"><rect x="1347" y="1107.7" width="144" height="75.1" fill="#edecea" stroke="#b2ac9f"/><text class="f11" x="1419"><tspan x="1419" y="1121.3">runtime</tspan><tspan x="1419" y="1137.3">selectgo</tspan><tspan x="1419" y="1153.3">10ms (1.05%)</tspan><tspan x="1419" y="1169.3">of 20ms (2.11%)</tspan></text></g>
<g id="n37" class="nd"><rect x="1964.2" y="1115.6" width="125.5" height="58.9" fill="#edeceb" stroke="#b2b0a9"/><text class="f11" x="2027"><tspan x="2027" y="1129">runtime</tspan><tspan x="2027" y="1145">acquirem</tspan><tspan x="2027" y="1161">10ms (1.05%)</tspan></text></g>
<g id="n38" class="nd"><rect x="2113.4" y="1107.7" width="125.4" height="75.1" fill="#edeceb" stroke="#b2b0a9"/><text class="f11" x="2176.1"><tspan x="2176.1" y="1121.3">errgroup</tspan><tspan x="2176.1" y="1137.3">(*group)</tspan><tspan x="2176.1" y="1153.3">done</tspan><tspan x="2176.1" y="1169.3">10ms (1.05%)</tspan></text></g>
<g id="n39" class="nd"><rect x="2263.7" y="1121.2" width="118.3" height="48.2" fill="#edebe8" stroke="#b2a38c"/><text class="f8" x="2322.9"><tspan x="2322.9" y="1133.4">runtime</tspan><tspan x="2322.9" y="1145.3">newobject</tspan><tspan x="2322.9" y="1157.2">0 of 40ms (4.21%)</tspan></text></g>
<g id="n40" class="nd"><rect x="2406.3" y="1107.7" width="126.1" height="75.1" fill="#edeceb" stroke="#b2b0a9"/><text class="f11" x="2469.4"><tspan x="2469.4" y="1121.3">sync</tspan><tspan x="2469.4" y="1137.3">(*Pool)</tspan><tspan x="2469.4" y="1153.3">pin</tspan><tspan x="2469.4" y="1169.3">10ms (1.05%)</tspan></text></g>
<g id="n41" class="nd"><rect x="2556.6" y="1115.6" width="119" height="58.9" fill="#edebe9" stroke="#b2a896"/><text class="f8" x="2616.1"><tspan x="2616.1" y="1127.15">runtime</tspan><tspan x="2616.1" y="1139.05">(*stkframe)</tspan><tspan x="2616.1" y="1150.95">getStackMap</tspan><tspan x="2616.1" y="1162.85">0 of 30ms (3.16%)</tspan></text></g>
<g id="n42" class="nd"><rect x="652.4" y="1286.3" width="133.5" height="48.7" fill="#eddbd5" stroke="#b22e00"/><text class="f8" x="719.2"><tspan x="719.2" y="1298.8">runtime</tspan><tspan x="719.2" y="1310.7">findRunnable</tspan><tspan x="719.2" y="1322.6">0 of 350ms (36.84%)</tspan></text></g>
<g id="n43" class="nd"><rect x="989.3" y="1286.3" width="133.5" height="48.7" fill="#eddcd5" stroke="#b23800"/><text class="f8" x="1056"><tspan x="1056" y="1298.8">poll</tspan><tspan x="1056" y="1310.7">ignoringEINTRIO</tspan><tspan x="1056" y="1322.6">0 of 270ms (28.42%)</tspan></text></g>
<g id="n44" class="nd"><rect x="1147" y="1272.9" width="125.2" height="75.1" fill="#edeceb" stroke="#b2b0a9"/><text class="f11" x="1209.6"><tspan x="1209.6" y="1286.5">transport</tspan><tspan x="1209.6" y="1302.5">(*bufWriter)</tspan><tspan x="1209.6" y="1318.5">Write</tspan><tspan x="1209.6" y="1334.5">10ms (1.05%)</tspan></text></g>
<g id="n45" class="nd"><rect x="1296" y="1272.9" width="125.7" height="75.1" fill="#edeceb" stroke="#b2b0a9"/><text class="f11" x="1358.8"><tspan x="1358.8" y="1286.5">http2</tspan><tspan x="1358.8" y="1302.5">(*Framer)</tspan><tspan x="1358.8" y="1318.5">startWrite</tspan><tspan x="1358.8" y="1334.5">10ms (1.05%)</tspan></text></g>
<g id="n46" class="nd"><rect x="1445.4" y="1281.2" width="125.2" height="58.5" fill="#edeceb" stroke="#b2b0a9"/><text class="f11" x="1508"><tspan x="1508" y="1294.5">runtime</tspan><tspan x="1508" y="1310.5">sellock</tspan><tspan x="1508" y="1326.5">10ms (1.05%)</tspan></text></g>
<g id="n47" class="nd"><rect x="2246" y="1270.5" width="153.8" height="80.3" fill="#ede9e5" stroke="#b2997a"/><text class="f12" x="2322.9"><tspan x="2322.9" y="1284.9">runtime</tspan><tspan x="2322.9" y="1302.1">mallocgc</tspan><tspan x="2322.9" y="1319.3">20ms (2.11%)</tspan><tspan x="2322.9" y="1336.5">of 60ms (6.32%)</tspan></text></g>
<g id="n48" class="nd"><rect x="2456.6" y="1272.9" width="140.3" height="75.1" fill="#edeceb" stroke="#b2b0a9"/><text class="f11" x="2526.8"><tspan x="2526.8" y="1286.5">runtime</tspan><tspan x="2526.8" y="1302.5">(*stkframe)</tspan><tspan x="2526.8" y="1318.5">argMapInternal</tspan><tspan x="2526.8" y="1334.5">10ms (1.05%)</tspan></text></g>
<g id="n49" class="nd"><rect x="106.8" y="1426.3" width="141.2" height="75.1" fill="#edeceb" stroke="#b2b0a9"/><text class="f11" x="177.4"><tspan x="177.4" y="1439.9">runtime</tspan><tspan x="177.4" y="1455.9">(*mLockProfile)</tspan><tspan x="177.4" y="1471.9">recordUnlock</tspan><tspan x="177.4" y="1487.9">10ms (1.05%)</tspan></text></g>
<g id="n50" class="nd"><rect x="272.8" y="1434.6" width="151.2" height="58.5" fill="#edeceb" stroke="#b2b0a9"/><text class="f11" x="348.4"><tspan x="348.4" y="1447.9">runtime</tspan><tspan x="348.4" y="1463.9">checkTimersNoP</tspan><tspan x="348.4" y="1479.9">10ms (1.05%)</tspan></text></g>
<g id="n51" class="nd"><rect x="448.4" y="1434.6" width="125.1" height="58.5" fill="#edeceb" stroke="#b2b0a9"/><text class="f11" x="511"><tspan x="511" y="1447.9">runtime</tspan><tspan x="511" y="1463.9">stealWork</tspan><tspan x="511" y="1479.9">10ms (1.05%)</tspan></text></g>
<g id="n52" class="nd"><rect x="598.4" y="1439.3" width="119.3" height="49.1" fill="#ede9e4" stroke="#b29470"/><text class="f8" x="658"><tspan x="658" y="1452">runtime</tspan><tspan x="658" y="1463.9">checkTimers</tspan><tspan x="658" y="1475.8">0 of 70ms (7.37%)</tspan></text></g>
<g id="n53" class="nd"><rect x="792.4" y="1423.9" width="173.2" height="80.3" fill="#edddd5" stroke="#b23a00"/><text class="f12" x="879"><tspan x="879" y="1438.2">runtime</tspan><tspan x="879" y="1455.4">netpoll</tspan><tspan x="879" y="1472.6">20ms (2.11%)</tspan><tspan x="879" y="1489.8">of 250ms (26.32%)</tspan></text></g>
<g id="n54" class="nd"><rect x="989.3" y="1439.3" width="133.5" height="49.1" fill="#eddcd5" stroke="#b23800"/><text class="f8" x="1056"><tspan x="1056" y="1452">syscall</tspan><tspan x="1056" y="1463.9">Syscall</tspan><tspan x="1056" y="1475.8">0 of 270ms (28.42%)</tspan></text></g>
<g id="n55" class="nd"><rect x="1646.5" y="1439.3" width="118.5" height="49.1" fill="#edecea" stroke="#b2ac9f"/><text class="f8" x="1705.8"><tspan x="1705.8" y="1452">runtime</tspan><tspan x="1705.8" y="1463.9">gcBgMarkWorker</tspan><tspan x="1705.8" y="1475.8">0 of 20ms (2.11%)</tspan></text></g>
<g id="n56" class="nd"><rect x="2008" y="1434.6" width="203" height="58.5" fill="#edeceb" stroke="#b2b0a9"/><text class="f11" x="2109.5"><tspan x="2109.5" y="1447.9">runtime</tspan><tspan x="2109.5" y="1463.9">memclrNoHeapPointers</tspan><tspan x="2109.5" y="1479.9">10ms (1.05%)</tspan></text></g>
<g id="n57" class="nd"><rect x="2235.9" y="1418.4" width="174" height="90.9" fill="#edecea" stroke="#b2ac9f"/><text class="f11" x="2322.9"><tspan x="2322.9" y="1431.9">runtime</tspan><tspan x="2322.9" y="1447.9">(*mspan)</tspan><tspan x="2322.9" y="1463.9">writeHeapBitsSmall</tspan><tspan x="2322.9" y="1479.9">10ms (1.05%)</tspan><tspan x="2322.9" y="1495.9">of 20ms (2.11%)</tspan></text></g>
<g id="n58" class="nd"><rect x="2434.7" y="1426.3" width="130.3" height="75.1" fill="#edeceb" stroke="#b2b0a9"/><text class="f11" x="2499.9"><tspan x="2499.9" y="1439.9">runtime</tspan><tspan x="2499.9" y="1455.9">(*mspan)</tspan><tspan x="2499.9" y="1471.9">nextFreeIndex</tspan><tspan x="2499.9" y="1487.9">10ms (1.05%)</tspan></text></g>
<g id="n59" class="nd"><rect x="915.2" y="1596.7" width="282.8" height="115.5" fill="#edd9d5" stroke="#b22000"/><text class="f24" x="1056.6"><tspan x="1056.6" y="1617.4">syscall</tspan><tspan x="1056.6" y="1652">Syscall6</tspan><tspan x="1056.6" y="1686.6">490ms (51.58%)</tspan></text></g>
<g id="n60" class="nd"><rect x="442.5" y="1622.8" width="131.5" height="63.2" fill="#edecea" stroke="#b2ac9f"/><text class="f12" x="508.3"><tspan x="508.3" y="1637.2">runtime</tspan><tspan x="508.3" y="1654.4">nanotime</tspan><tspan x="508.3" y="1671.6">20ms (2.11%)</tspan></text></g>
<g id="n61" class="nd"><rect x="598.4" y="1630.3" width="119.3" height="48.7" fill="#edeae6" stroke="#b29f83"/><text class="f8" x="658"><tspan x="658" y="1642.8">runtime</tspan><tspan x="658" y="1654.7">runOneTimer</tspan><tspan x="658" y="1666.6">0 of 50ms (5.26%)</tspan></text></g>
<g id="n62" class="nd"><rect x="1575.3" y="1630.3" width="118.7" height="48.7" fill="#edebe8" stroke="#b2a38c"/><text class="f8" x="1634.6"><tspan x="1634.6" y="1642.8">runtime</tspan><tspan x="1634.6" y="1654.7">systemstack</tspan><tspan x="1634.6" y="1666.6">0 of 40ms (4.21%)</tspan></text></g>
<g id="n63" class="nd"><rect x="2260" y="1624.8" width="125" height="58.9" fill="#edeceb" stroke="#b2b0a9"/><text class="f11" x="2322.5"><tspan x="2322.5" y="1638.3">runtime</tspan><tspan x="2322.5" y="1654.3">heapBitsSlice</tspan><tspan x="2322.5" y="1670.3">10ms (1.05%)</tspan></text></g>
<g id="n64" class="nd"><rect x="442.5" y="1779.4" width="131.5" height="59.2" fill="#edeceb" stroke="#b2b0a9"/><text class="f11" x="508.3"><tspan x="508.3" y="1793">runtime</tspan><tspan x="508.3" y="1809">siftdownTimer</tspan><tspan x="508.3" y="1825">10ms (1.05%)</tspan></text></g>
<g id="n65" class="nd"><rect x="598.4" y="1785" width="119.3" height="48.8" fill="#edebe8" stroke="#b2a38c"/><text class="f8" x="658"><tspan x="658" y="1797.5">time</tspan><tspan x="658" y="1809.4">sendTime</tspan><tspan x="658" y="1821.3">0 of 40ms (4.21%)</tspan></text></g>
<g id="n66" class="nd"><rect x="1422.9" y="1779.4" width="125.7" height="59.2" fill="#edeceb" stroke="#b2b0a9"/><text class="f11" x="1485.8"><tspan x="1485.8" y="1793">runtime</tspan><tspan x="1485.8" y="1809">stackalloc</tspan><tspan x="1485.8" y="1825">10ms (1.05%)</tspan></text></g>
<g id="n67" class="nd"><rect x="1572.3" y="1779.4" width="125.7" height="59.2" fill="#edeceb" stroke="#b2b0a9"/><text class="f11" x="1635.2"><tspan x="1635.2" y="1793">runtime</tspan><tspan x="1635.2" y="1809">futex</tspan><tspan x="1635.2" y="1825">10ms (1.05%)</tspan></text></g>
<g id="n68" class="nd"><rect x="1840.4" y="1785" width="119.1" height="48.8" fill="#edecea" stroke="#b2ac9f"/><text class="f8" x="1900"><tspan x="1900" y="1797.5">runtime</tspan><tspan x="1900" y="1809.4">gcDrain</tspan><tspan x="1900" y="1821.3">0 of 20ms (2.11%)</tspan></text></g>
<g id="n69" class="nd"><rect x="514.8" y="1926.6" width="144.2" height="75" fill="#edebe8" stroke="#b2a38c"/><text class="f11" x="586.9"><tspan x="586.9" y="1940.1">runtime</tspan><tspan x="586.9" y="1956.1">selectnbsend</tspan><tspan x="586.9" y="1972.1">10ms (1.05%)</tspan><tspan x="586.9" y="1988.1">of 40ms (4.21%)</tspan></text></g>
<g id="n70" class="nd"><rect x="688.6" y="1932.5" width="132.4" height="62.8" fill="#edebe9" stroke="#b2a896"/><text class="f12" x="754.8"><tspan x="754.8" y="1946.7">time</tspan><tspan x="754.8" y="1963.9">Now</tspan><tspan x="754.8" y="1981.1">30ms (3.16%)</tspan></text></g>
<g id="n71" class="nd"><rect x="1837.5" y="1926.6" width="124.9" height="74.6" fill="#edeceb" stroke="#b2b0a9"/><text class="f11" x="1900"><tspan x="1900" y="1939.9">runtime</tspan><tspan x="1900" y="1955.9">(*mspan)</tspan><tspan x="1900" y="1971.9">objIndex</tspan><tspan x="1900" y="1987.9">10ms (1.05%)</tspan></text></g>
<g id="n72" class="nd"><rect x="2402.2" y="1934.5" width="118.3" height="58.8" fill="#edecea" stroke="#b2ac9f"/><text class="f8" x="2461.4"><tspan x="2461.4" y="1946.05">runtime</tspan><tspan x="2461.4" y="1957.95">(*unwinder)</tspan><tspan x="2461.4" y="1969.85">next</tspan><tspan x="2461.4" y="1981.75">0 of 20ms (2.11%)</tspan></text></g>
<g id="n73" class="nd"><rect x="527.9" y="2074.6" width="118.6" height="48.2" fill="#edebe9" stroke="#b2a896"/><text class="f8" x="587.2"><tspan x="587.2" y="2086.8">runtime</tspan><tspan x="587.2" y="2098.7">ready</tspan><tspan x="587.2" y="2110.6">0 of 30ms (3.16%)</tspan></text></g>
<g id="n74" class="nd"><rect x="2328.8" y="2068.7" width="118.4" height="59.3" fill="#edecea" stroke="#b2ac9f"/><text class="f8" x="2388"><tspan x="2388" y="2080.55">runtime</tspan><tspan x="2388" y="2092.45">(*unwinder)</tspan><tspan x="2388" y="2104.35">resolveInternal</tspan><tspan x="2388" y="2116.25">0 of 20ms (2.11%)</tspan></text></g>
<g id="n75" class="nd"><rect x="2472" y="2068.7" width="125.5" height="59.3" fill="#edeceb" stroke="#b2b0a9"/><text class="f11" x="2534.8"><tspan x="2534.8" y="2082.4">runtime</tspan><tspan x="2534.8" y="2098.4">findfunc</tspan><tspan x="2534.8" y="2114.4">10ms (1.05%)</tspan></text></g>
<g id="n76" class="nd"><rect x="520.8" y="2201.8" width="132.2" height="63.1" fill="#edebe9" stroke="#b2a896"/><text class="f12" x="586.9"><tspan x="586.9" y="2216.2">runtime</tspan><tspan x="586.9" y="2233.4">casgstatus</tspan><tspan x="586.9" y="2250.6">30ms (3.16%)</tspan></text></g>
<g id="n77" class="nd"><rect x="2316.4" y="2195.8" width="143.2" height="75" fill="#edebe8" stroke="#b2a38c"/><text class="f11" x="2388"><tspan x="2388" y="2209.3">runtime</tspan><tspan x="2388" y="2225.3">pcvalue</tspan><tspan x="2388" y="2241.3">10ms (1.05%)</tspan><tspan x="2388" y="2257.3">of 40ms (4.21%)</tspan></text></g>
<g id="n78" class="nd"><rect x="1746" y="2364.8" width="132.4" height="63.2" fill="#edecea" stroke="#b2ac9f"/><text class="f12" x="1812.2"><tspan x="1812.2" y="2379.2">runtime</tspan><tspan x="1812.2" y="2396.4">releasem</tspan><tspan x="1812.2" y="2413.6">20ms (2.11%)</tspan></text></g>
<g id="n79" class="nd"><rect x="2247.7" y="2358.5" width="129" height="74.5" fill="#edeceb" stroke="#b2b0a9"/><text class="f11" x="2312.2"><tspan x="2312.2" y="2371.8">runtime</tspan><tspan x="2312.2" y="2387.8">(*moduledata)</tspan><tspan x="2312.2" y="2403.8">textAddr</tspan><tspan x="2312.2" y="2419.8">10ms (1.05%)</tspan></text></g>
<g id="n80" class="nd"><rect x="2401.6" y="2366.4" width="124.9" height="58.8" fill="#edeceb" stroke="#b2b0a9"/><text class="f11" x="2464"><tspan x="2464" y="2379.8">runtime</tspan><tspan x="2464" y="2395.8">cheaprandn</tspan><tspan x="2464" y="2411.8">10ms (1.05%)</tspan></text></g>
</g>
</svg>
